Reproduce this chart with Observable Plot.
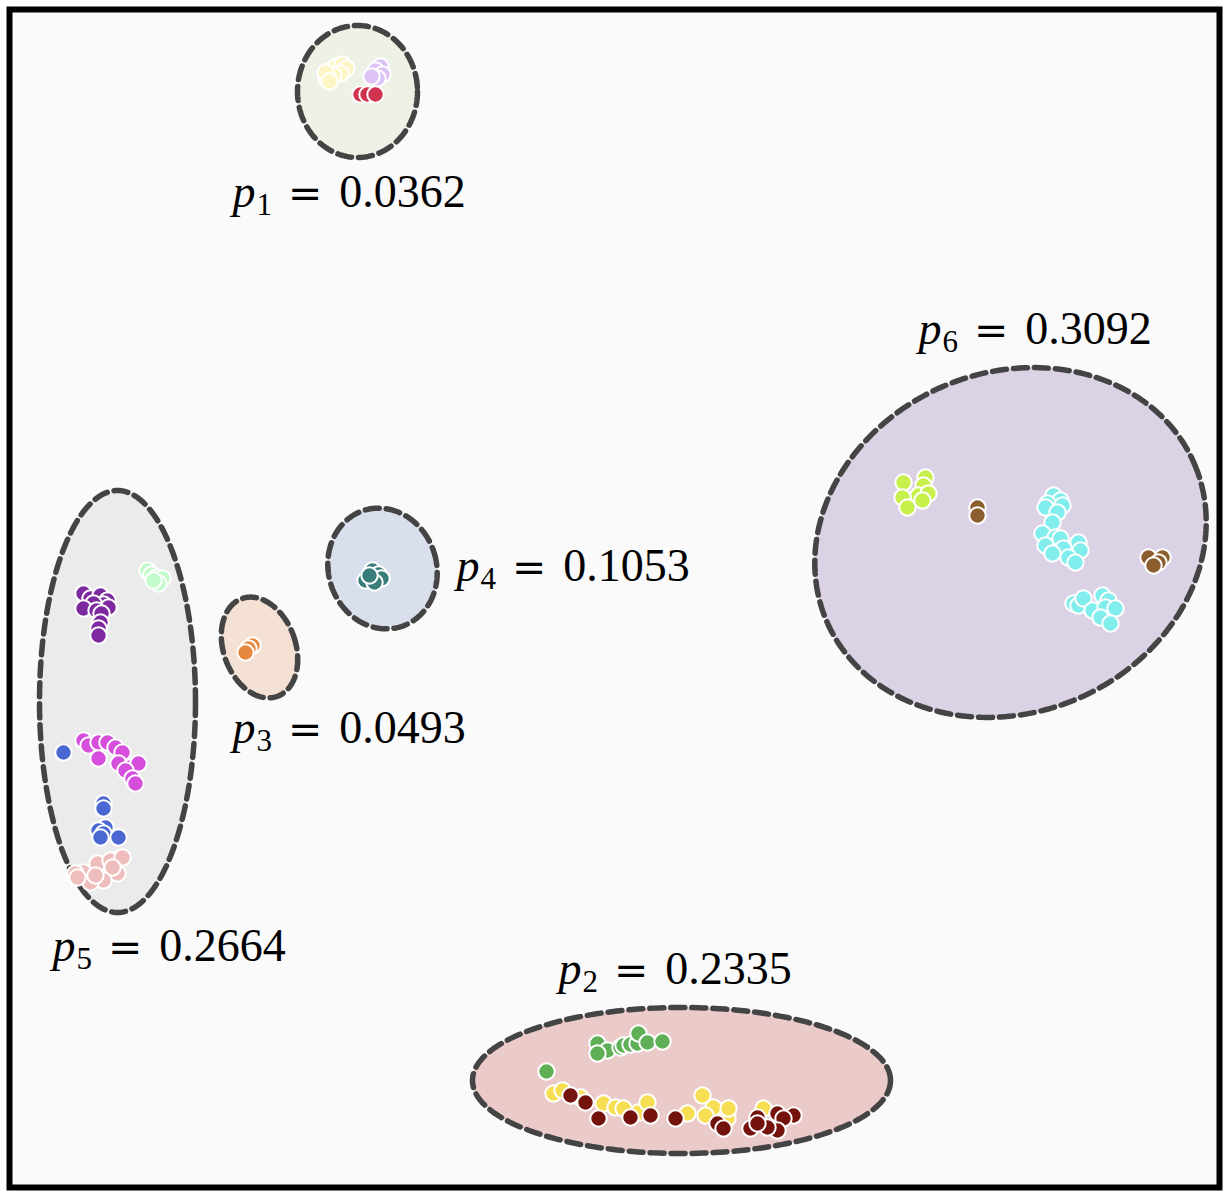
<!DOCTYPE html>
<html>
<head>
<meta charset="utf-8">
<script src="https://cdn.jsdelivr.net/npm/d3@7"></script>
<script src="https://cdn.jsdelivr.net/npm/@observablehq/plot@0.6"></script>
<style>
  html, body { margin: 0; padding: 0; background: #ffffff; }
  #chart { width: 1228px; height: 1196px; }
</style>
</head>
<body>
<div id="chart"></div>
<script>
// ---- Cluster points (embedding coordinates) ----
const creamPts   = [[326,78],[331,70],[336,66],[342,64],[346,68],[340,73],[333,75],[325,72],[329,81]];
const lavenderPts= [[380,66],[375,70],[382,74],[377,78],[371,76]];
const crimsonPts = [[360,94],[367,94],[375,94]];

const mintPts    = [[147,570],[151,574],[156,577],[162,578],[158,583],[153,580]];
const purplePts  = [[83,593],[90,598],[100,595],[107,600],[103,604],[93,603],[83,608],[108,607],[96,610],[101,613],[100,622],[98,628],[98,635]];
const magentaPts = [[83,740],[88,745],[98,742],[107,742],[115,747],[98,758],[122,752],[118,763],[130,767],[138,763],[125,770],[132,778],[135,783]];
const bluePts    = [[63,752],[103,803],[103,808],[105,827],[98,830],[103,833],[100,837],[118,837]];
const pinkPts    = [[83,872],[97,863],[110,860],[122,857],[117,873],[112,867],[103,880],[90,882],[75,873],[77,877],[95,875]];

const orangePts  = [[252,645],[248,648],[245,652]];
const tealPts    = [[365,580],[372,570],[378,574],[381,578],[374,582],[369,575]];

const limePts    = [[903,482],[925,477],[923,485],[918,495],[902,497],[907,507],[928,493],[922,500]];
const brownPts   = [[977,507],[977,515],[1148,557],[1162,557],[1158,562],[1153,565]];
const cyanPts    = [[1053,495],[1060,500],[1047,503],[1062,505],[1045,507],[1057,512],[1052,522],
                    [1042,533],[1055,537],[1060,538],[1078,542],[1045,545],[1063,548],[1080,550],[1052,553],[1068,557],[1075,562],
                    [1073,603],[1078,605],[1083,598],[1092,610],[1102,595],[1108,600],[1105,607],[1115,608],[1100,617],[1110,623]];

const greenPts   = [[546,1071],[597,1043],[607,1050],[597,1053],[620,1047],[623,1045],[630,1044],[637,1043],[638,1033],[647,1042],[662,1041]];
const yellowPts  = [[553,1093],[562,1090],[580,1097],[603,1103],[615,1107],[623,1108],[638,1112],[647,1102],[687,1113],[702,1095],[713,1107],[705,1115],[727,1118],[728,1108],[763,1108]];
const darkredPts = [[570,1095],[585,1102],[598,1118],[630,1117],[650,1115],[675,1118],[717,1123],[723,1128],[750,1128],[757,1117],[777,1113],[793,1115],[783,1118],[777,1130],[767,1127],[757,1123]];

const groupNames = ["cream","lavender","crimson","mint","purple","magenta","blue","pink","orange","teal","lime","brown","cyan","green","yellow","darkred"];
const groupPoints = [creamPts,lavenderPts,crimsonPts,mintPts,purplePts,magentaPts,bluePts,pinkPts,orangePts,tealPts,limePts,brownPts,cyanPts,greenPts,yellowPts,darkredPts];
const groupColors = ["#fdf6c4","#dcc2f5","#d0334f","#c3fbca","#7d2aa0","#d64fdc","#4a67d2","#efbdbb","#e6883f","#387d7a","#c8f04c","#8c5e2d","#82eded","#5faf57","#f7de52","#74120c"];

// ---- Cluster ellipses (centre, semi-axes, rotation in degrees) ----
const ellipseIdx = [1, 2, 3, 4, 5, 6];
const ellipseCx  = [357, 681, 259, 382, 117, 1010];
const ellipseCy  = [91, 1080, 647, 568, 701, 542];
const ellipseRx  = [60, 209, 36, 54, 78, 200];
const ellipseRy  = [66, 73, 52, 61, 211, 170];
const ellipseRot = [0, 0, -20, -18, 0, -23];
const ellipseFill= ["#edf1e6","#ebcbca","#f4e1d3","#d9dfed","#ebebeb","#dcd2e5"];

// ---- Labels ----
const labelIdx   = [1, 6, 4, 3, 5, 2];
const labelValue = ["0.0362","0.3092","0.1053","0.0493","0.2664","0.2335"];
const labelX     = [232, 918, 456, 232, 52, 558];
const labelY     = [206, 343, 580, 742, 960, 983];

// ---- Build tables ----
const points = groupNames.flatMap((g, i) => groupPoints[i].map(([x, y]) => ({group: g, x, y})));
const labels = labelIdx.map((k, i) => ({k, v: labelValue[i], x: labelX[i], y: labelY[i]}));

function ellipseOutline(i) {
  const n = 240, out = [];
  const th = ellipseRot[i] * Math.PI / 180, c = Math.cos(th), s = Math.sin(th);
  for (let j = 0; j < n; ++j) {
    const t = 2 * Math.PI * j / n;
    const ex = ellipseRx[i] * Math.cos(t), ey = ellipseRy[i] * Math.sin(t);
    out.push({x: ellipseCx[i] + ex * c - ey * s, y: ellipseCy[i] + ex * s + ey * c});
  }
  return out;
}

const ellipseMarks = ellipseIdx.map((_, i) =>
  Plot.line(ellipseOutline(i), {
    x: "x", y: "y", curve: "linear-closed",
    fill: ellipseFill[i], stroke: "#444444", strokeWidth: 5.5, strokeDasharray: "14,7"
  })
);

const svg = Plot.plot({
  width: 1228,
  height: 1196,
  margin: 0,
  x: {domain: [0, 1228], axis: null},
  y: {domain: [0, 1196], reverse: true, axis: null},
  color: {domain: groupNames, range: groupColors},
  style: {background: "#ffffff", overflow: "visible"},
  marks: [
    Plot.frame({fill: "#fafafa", inset: 9}),
    ...ellipseMarks,
    Plot.dot(points, {x: "x", y: "y", fill: "group", r: 8.2, stroke: "white", strokeWidth: 2}),
    Plot.text(labels, {x: "x", y: "y", text: d => d.k + "|" + d.v, textAnchor: "start", lineAnchor: "bottom",
      fontSize: 46, fontFamily: "Liberation Serif", fill: "#000"}),
    Plot.frame({stroke: "#000", strokeWidth: 6, inset: 9})
  ]
});

// render labels as p_k = value with a real subscript
d3.select(svg).selectAll('g[aria-label="text"] text').each(function () {
  const [k, v] = this.textContent.split("|");
  const t = d3.select(this);
  t.text("");
  t.append("tspan").attr("font-style", "italic").text("p");
  t.append("tspan").attr("font-size", 31).attr("dx", 1).attr("dy", 8).text(k);
  t.append("tspan").attr("font-family", "DejaVu Serif").attr("font-size", 41).attr("dx", 16).attr("dy", -8).text("=");
  t.append("tspan").attr("dx", 17).text(v);
});

document.getElementById("chart").appendChild(svg);
</script>
</body>
</html>
